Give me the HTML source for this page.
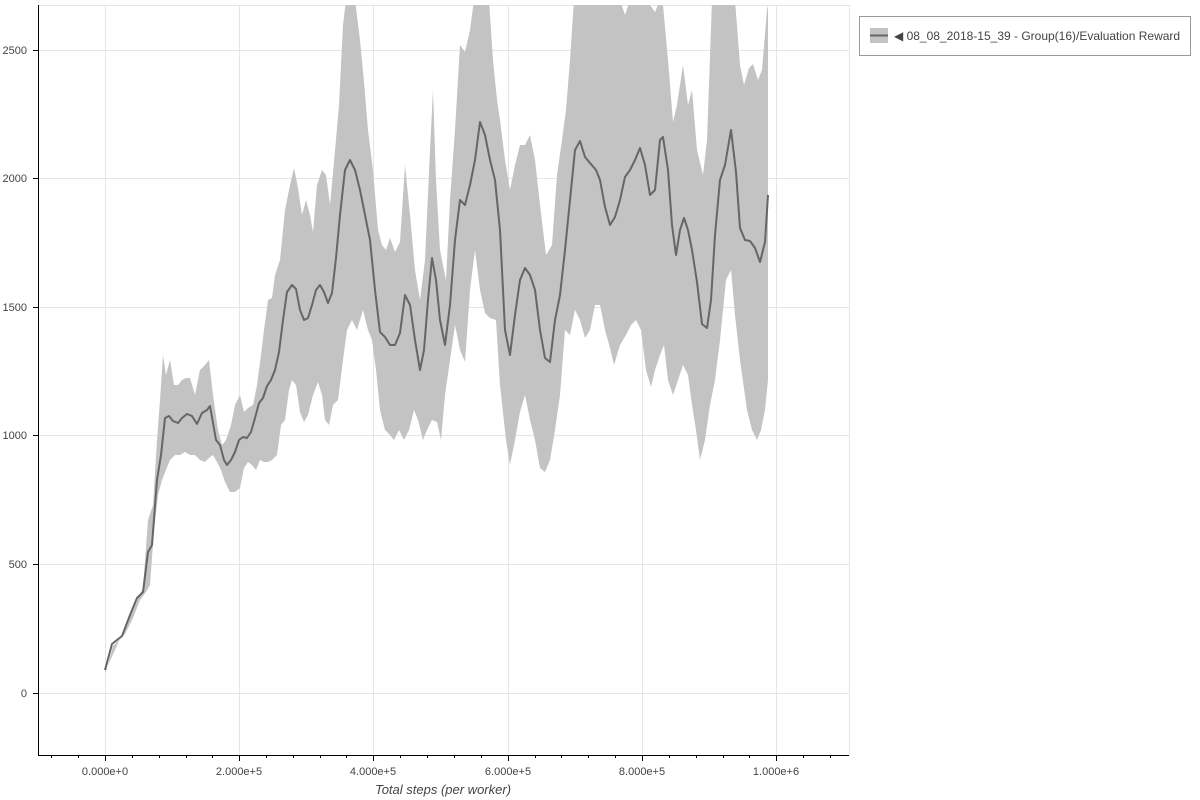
<!DOCTYPE html>
<html><head><meta charset="utf-8"><style>
html,body{margin:0;padding:0;background:#fff;}
svg{display:block;font-family:"Liberation Sans",sans-serif;}
</style></head><body>
<svg width="1200" height="800" viewBox="0 0 1200 800" xmlns="http://www.w3.org/2000/svg">
<defs><clipPath id="c"><rect x="38" y="5" width="811" height="750"/></clipPath></defs>
<rect width="1200" height="800" fill="#fff"/>
<g stroke="#e5e5e5" stroke-width="1">
<line x1="105.5" y1="5" x2="105.5" y2="755"/><line x1="239.5" y1="5" x2="239.5" y2="755"/>
<line x1="373.5" y1="5" x2="373.5" y2="755"/><line x1="508.5" y1="5" x2="508.5" y2="755"/>
<line x1="642.5" y1="5" x2="642.5" y2="755"/><line x1="776.5" y1="5" x2="776.5" y2="755"/>
<line x1="38" y1="693.5" x2="849" y2="693.5"/><line x1="38" y1="564.5" x2="849" y2="564.5"/>
<line x1="38" y1="435.5" x2="849" y2="435.5"/><line x1="38" y1="307.5" x2="849" y2="307.5"/>
<line x1="38" y1="178.5" x2="849" y2="178.5"/><line x1="38" y1="50.5" x2="849" y2="50.5"/>
</g>
<rect x="38.5" y="5.5" width="811" height="750" fill="none" stroke="#e5e5e5"/>
<g clip-path="url(#c)">
<path fill="#c3c3c3" d="M105,672 L143,588 L148,520 L153,505 L157,440 L160,400 L163,355 L166,375 L170,360 L174,385 L178,385 L182,380 L186,378 L190,378 L195,395 L200,370 L205,365 L209,360 L213,395 L218,430 L222,445 L226,440 L231,425 L235,405 L240,395 L244,412 L248,408 L253,405 L257,385 L261,355 L264,330 L268,300 L272,298 L275,275 L280,260 L285,210 L290,185 L294,168 L298,188 L302,215 L306,200 L310,215 L313,232 L317,185 L322,170 L326,175 L330,205 L334,162 L339,105 L343,25 L346,0 L355,0 L360,40 L364,82 L368,130 L373,170 L378,230 L382,245 L386,250 L390,238 L395,252 L400,242 L405,165 L410,215 L415,270 L420,300 L425,260 L430,150 L433,90 L436,180 L440,250 L446,280 L450,200 L455,130 L460,45 L465,52 L470,30 L474,0 L489,0 L493,60 L497,100 L500,120 L505,160 L510,190 L515,165 L520,145 L525,145 L530,135 L535,160 L540,205 L546,255 L552,245 L557,175 L562,140 L566,110 L570,60 L574,0 L620,0 L625,15 L630,0 L640,0 L645,5 L650,5 L655,12 L660,0 L663,5 L668,60 L673,122 L677,105 L683,65 L688,105 L692,90 L697,150 L703,175 L707,140 L712,0 L735,0 L740,65 L744,85 L749,68 L753,64 L758,80 L762,70 L767,10 L768,5 L768,380 L765,410 L761,430 L757,440 L752,430 L747,410 L740,360 L735,315 L731,270 L726,280 L720,340 L715,380 L710,405 L705,440 L700,460 L696,430 L692,405 L688,375 L683,365 L678,380 L673,395 L668,380 L664,345 L660,355 L655,370 L651,387 L646,370 L641,330 L636,320 L631,325 L626,335 L620,345 L614,365 L610,348 L605,330 L600,305 L595,305 L590,330 L585,338 L580,320 L575,310 L570,335 L565,330 L560,395 L555,430 L550,460 L545,472 L540,468 L535,440 L530,420 L525,395 L520,412 L515,440 L510,465 L506,440 L500,385 L496,320 L490,318 L485,313 L480,290 L475,250 L470,290 L465,362 L460,350 L455,325 L450,360 L445,395 L441,440 L437,422 L432,420 L427,430 L423,440 L418,420 L414,410 L409,430 L404,440 L399,430 L394,440 L390,435 L385,430 L380,410 L376,370 L372,340 L368,330 L363,310 L357,330 L352,320 L347,330 L343,360 L338,400 L333,405 L329,425 L325,420 L322,395 L318,382 L313,395 L308,415 L304,422 L300,412 L296,385 L292,380 L289,390 L285,420 L281,425 L277,455 L272,460 L268,462 L264,462 L260,460 L256,470 L252,465 L248,462 L244,468 L240,488 L235,492 L230,492 L225,482 L221,470 L217,462 L213,455 L209,458 L205,462 L200,460 L195,455 L190,455 L185,452 L180,455 L175,455 L170,460 L166,470 L162,480 L158,495 L154,530 L150,585 L146,592 L140,600 L133,618 L125,634 L113,646 L106,672 Z"/>
<polyline fill="none" stroke="#666" stroke-width="2" stroke-linejoin="round" points="105,670 112,644 122,636 130,615 137,598 143,592 148,552 152,545 157,480 161,455 165,418 169,416 173,421 178,423 182,418 187,414 192,416 197,424 202,413 207,410 210,406 213,423 216,440 220,445 224,460 227,465 231,460 235,452 239,440 243,437 247,438 251,432 255,418 259,403 263,398 267,386 271,380 275,370 279,352 283,320 287,292 292,285 296,289 300,310 304,320 308,318 312,305 316,290 320,285 324,292 328,303 332,293 336,258 340,215 345,170 350,160 355,170 360,190 365,215 370,240 375,290 380,332 385,337 390,345 395,345 400,333 405,295 410,305 415,340 420,370 424,350 428,300 432,258 436,280 440,320 445,345 450,305 455,240 460,200 465,205 470,185 475,160 480,122 485,135 490,160 495,180 500,230 505,330 510,355 515,315 520,280 525,268 530,275 535,290 540,330 545,358 550,362 555,320 560,295 565,250 570,200 575,150 580,141 585,157 590,163 596,170 600,180 605,207 610,225 615,217 620,200 625,177 630,170 635,160 640,148 645,165 650,195 655,190 660,140 663,137 668,170 672,225 676,255 680,230 684,218 688,230 692,250 697,282 702,324 707,328 711,300 715,235 720,180 725,165 731,130 736,172 740,228 745,240 750,241 755,248 760,262 765,242 768,195"/>
</g>
<g stroke="#000" stroke-width="1">
<line x1="38.5" y1="5" x2="38.5" y2="756"/>
<line x1="38" y1="755.5" x2="849" y2="755.5"/>
<line x1="33" y1="693.5" x2="38" y2="693.5"/><line x1="33" y1="564.5" x2="38" y2="564.5"/>
<line x1="33" y1="435.5" x2="38" y2="435.5"/><line x1="33" y1="307.5" x2="38" y2="307.5"/>
<line x1="33" y1="178.5" x2="38" y2="178.5"/><line x1="33" y1="50.5" x2="38" y2="50.5"/>
<line x1="105.5" y1="755" x2="105.5" y2="761"/><line x1="239.5" y1="755" x2="239.5" y2="761"/>
<line x1="373.5" y1="755" x2="373.5" y2="761"/><line x1="508.5" y1="755" x2="508.5" y2="761"/>
<line x1="642.5" y1="755" x2="642.5" y2="761"/><line x1="776.5" y1="755" x2="776.5" y2="761"/>
<g stroke-width="1">
<line x1="51.5" y1="755" x2="51.5" y2="758"/><line x1="78.5" y1="755" x2="78.5" y2="758"/>
<line x1="132.5" y1="755" x2="132.5" y2="758"/><line x1="159.5" y1="755" x2="159.5" y2="758"/><line x1="186.5" y1="755" x2="186.5" y2="758"/><line x1="212.5" y1="755" x2="212.5" y2="758"/>
<line x1="266.5" y1="755" x2="266.5" y2="758"/><line x1="293.5" y1="755" x2="293.5" y2="758"/><line x1="320.5" y1="755" x2="320.5" y2="758"/><line x1="346.5" y1="755" x2="346.5" y2="758"/>
<line x1="400.5" y1="755" x2="400.5" y2="758"/><line x1="427.5" y1="755" x2="427.5" y2="758"/><line x1="454.5" y1="755" x2="454.5" y2="758"/><line x1="481.5" y1="755" x2="481.5" y2="758"/>
<line x1="535.5" y1="755" x2="535.5" y2="758"/><line x1="561.5" y1="755" x2="561.5" y2="758"/><line x1="588.5" y1="755" x2="588.5" y2="758"/><line x1="615.5" y1="755" x2="615.5" y2="758"/>
<line x1="669.5" y1="755" x2="669.5" y2="758"/><line x1="696.5" y1="755" x2="696.5" y2="758"/><line x1="723.5" y1="755" x2="723.5" y2="758"/><line x1="749.5" y1="755" x2="749.5" y2="758"/>
<line x1="803.5" y1="755" x2="803.5" y2="758"/><line x1="830.5" y1="755" x2="830.5" y2="758"/>
</g>
</g>
<g font-size="11" fill="#444" text-anchor="end">
<text x="27" y="697">0</text><text x="27" y="568">500</text><text x="27" y="439">1000</text>
<text x="27" y="311">1500</text><text x="27" y="182">2000</text><text x="27" y="54">2500</text>
</g>
<g font-size="11" fill="#444" text-anchor="middle">
<text x="105" y="775">0.000e+0</text><text x="239" y="775">2.000e+5</text><text x="373" y="775">4.000e+5</text>
<text x="508" y="775">6.000e+5</text><text x="642" y="775">8.000e+5</text><text x="776" y="775">1.000e+6</text>
</g>
<text x="443" y="794" font-size="13" font-style="italic" fill="#444" text-anchor="middle">Total steps (per worker)</text>
<rect x="859.5" y="16.5" width="331" height="39" fill="#fff" stroke="#999"/>
<rect x="870" y="28" width="18" height="15" fill="#c3c3c3"/>
<line x1="870" y1="35.5" x2="888" y2="35.5" stroke="#666" stroke-width="2"/>
<text x="894" y="40" font-size="12" fill="#444">◀ 08_08_2018-15_39 - Group(16)/Evaluation Reward</text>
</svg>
</body></html>
